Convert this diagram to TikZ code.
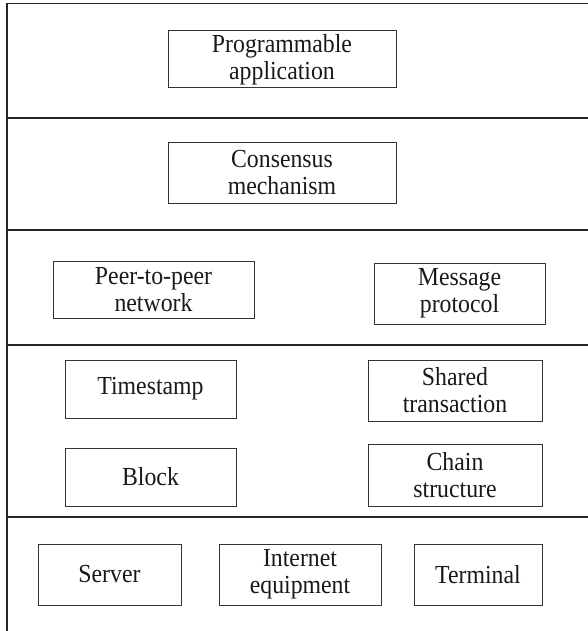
\documentclass[tikz,border=0pt]{standalone}
\usepackage{fontspec}
\setmainfont{Liberation Serif}[FakeStretch=0.915]
\begin{document}
\begin{tikzpicture}[x=1pt,y=-1pt,
  layerline/.style={draw=black!85,line width=1.1pt},
  box/.style={draw=black!80,line width=1pt,rectangle,inner sep=0pt,align=center,
    font=\fontsize{26}{27}\selectfont,text=black!90}]
\useasboundingbox (0,0) rectangle (588,631);
\coordinate (tl) at (7,3.5);
\coordinate (tr) at (588,3.5);
\coordinate (bl) at (7,631);
\draw[layerline] (tr) -- (tl) -- (bl);
\foreach \yy/\nm in {118/a,230/b,345/c,517/d}{
  \coordinate (l\nm) at (7,\yy);
  \coordinate (r\nm) at (588,\yy);
  \draw[layerline] (l\nm) -- (r\nm);
}
% boxes: center x, center y, width, height
\node[box,minimum width=228pt,minimum height=57pt] (prog) at (282,59.5) {Programmable\\application};
\node[box,minimum width=228pt,minimum height=60pt] (cons) at (282,173) {Consensus\\mechanism};
\node[box,minimum width=201pt,minimum height=57pt] (p2p) at (153.5,289.5) {Peer-to-peer\\network};
\node[box,minimum width=171pt,minimum height=61pt] (msg) at (459.5,293.5) {Message\\protocol};
\node[box,minimum width=171pt,minimum height=58pt] (time) at (150.5,389) {Timestamp};
\node[box,minimum width=174pt,minimum height=61pt] (share) at (455,390.5) {Shared\\transaction};
\node[box,minimum width=171pt,minimum height=58pt] (block) at (150.5,477) {Block};
\node[box,minimum width=174pt,minimum height=62pt] (chain) at (455,475) {Chain\\structure};
\node[box,minimum width=143pt,minimum height=61pt] (server) at (109.5,574.5) {Server};
\node[box,minimum width=162pt,minimum height=61pt] (inet) at (300,574.5) {Internet\\equipment};
\node[box,minimum width=128pt,minimum height=61pt] (term) at (478,574.5) {Terminal};
\end{tikzpicture}
\end{document}
